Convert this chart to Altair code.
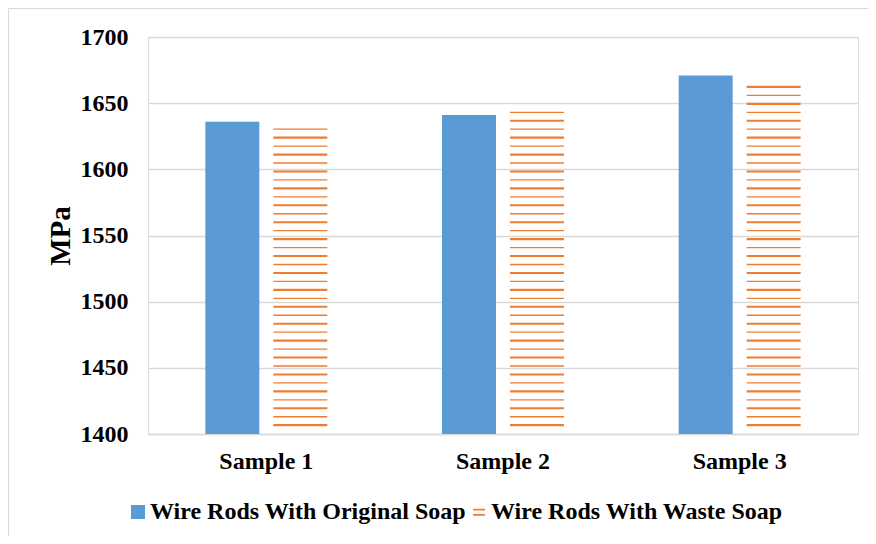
import altair as alt
import pandas as pd
import numpy as np

samples = ["Sample 1", "Sample 2", "Sample 3"]
series = ["Wire Rods With Original Soap", "Wire Rods With Waste Soap"]
original = [1636, 1641, 1671]
waste = [1631, 1643, 1663]

BLUE = "#5B9BD5"
ORANGE = "#ED7D31"
FONT = "Liberation Serif"

# solid bars (original soap)
bars_df = pd.DataFrame({"Sample": samples, "Series": series[0], "MPa": original})

# horizontal hatch strokes for the waste-soap bars (pattern fill, fixed phase)
step = 6.39
phase = 1643.1
rows = []
for s, v in zip(samples, waste):
    for k in range(-45, 10):
        lv = phase + step * k
        if 1401 < lv <= v + 0.5:
            th = 1.6 if k % 2 else 1.0
            rows.append({"Sample": s, "Series": series[1], "lo": lv - th / 2, "hi": lv + th / 2})
hatch_df = pd.DataFrame(rows)

legend_df = pd.DataFrame({"Series": series})

xenc = alt.X("Sample:N", sort=samples, title=None,
             scale=alt.Scale(paddingInner=0, paddingOuter=0),
             axis=alt.Axis(labelAngle=0, ticks=False, domainColor="#D9D9D9", domainWidth=1.5,
                           labelFont=FONT, labelFontWeight="bold", labelFontSize=24,
                           labelColor="black", labelPadding=15, grid=False))
xoff = alt.XOffset("Series:N", sort=series,
                   scale=alt.Scale(domain=series, paddingInner=0.206, paddingOuter=0.8435))
yscale = alt.Scale(domain=[1400, 1700], nice=False, zero=False)
yaxis = alt.Axis(values=[1400, 1450, 1500, 1550, 1600, 1650, 1700], format="d",
                 ticks=False, domain=False,
                 gridColor="#D9D9D9", gridWidth=1.3, labelFont=FONT, labelFontWeight="bold",
                 labelFontSize=24, labelColor="black", labelPadding=20,
                 title="MPa", titleFont=FONT, titleFontWeight="bold", titleFontSize=29,
                 titleColor="black", titleX=-88, titleY=198.5, titleAngle=-90,
                 titleAlign="center", titleBaseline="middle")

blue = alt.Chart(bars_df).mark_bar(color=BLUE).encode(
    x=xenc, xOffset=xoff, y=alt.Y("MPa:Q", scale=yscale, axis=yaxis), y2=alt.datum(1400))

hatch = alt.Chart(hatch_df).mark_bar(color=ORANGE).encode(
    x=alt.X("Sample:N", sort=samples), xOffset=alt.XOffset("Series:N", sort=series),
    y=alt.Y("lo:Q"), y2="hi:Q")

legend_layer = alt.Chart(legend_df).mark_point(filled=True, opacity=1, size=0).encode(
    color=alt.Color("Series:N", scale=alt.Scale(domain=series, range=[BLUE, ORANGE]),
                    legend=alt.Legend(title=None, orient="none", direction="horizontal",
                                      legendX=-22, legendY=463, symbolSize=196,
                                      symbolStrokeWidth=0, labelFont=FONT,
                                      labelFontWeight="bold", labelFontSize=24,
                                      labelColor="black", labelOffset=0, columnPadding=0,
                                      symbolOpacity=1, labelLimit=0)),
    shape=alt.Shape("Series:N", scale=alt.Scale(
        domain=series,
        range=["square", "M-0.85,-0.45H0.85V-0.2H-0.85Z M-0.85,0.3H0.85V0.55H-0.85Z"])),
    x=alt.X("Sample:N", sort=samples), y=alt.Y("MPa:Q")
).transform_calculate(Sample="'Sample 1'", MPa="1500")

one = pd.DataFrame({"a": [0]})
frame_top = alt.Chart(one).mark_rule(color="#D9D9D9", strokeWidth=1.2, clip=False).encode(
    x=alt.value(-139.5), x2=alt.value(730), y=alt.value(-28.5))
frame_left = alt.Chart(one).mark_rule(color="#D9D9D9", strokeWidth=1.2, clip=False).encode(
    x=alt.value(-139.5), y=alt.value(-28.5), y2=alt.value(505))

chart = alt.layer(frame_top, frame_left, blue, hatch, legend_layer).properties(
    width=710, height=397,
    padding={"left": 140, "top": 29, "right": 10, "bottom": 102},
    autosize=alt.AutoSizeParams(type="none"),
).configure_view(stroke=None).configure(background="white")

chart.save("out.html", embed_options={"renderer": "svg", "actions": False})
